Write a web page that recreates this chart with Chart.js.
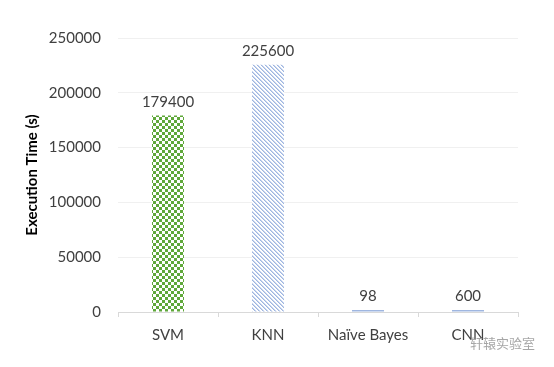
<!DOCTYPE html>
<html>
<head>
<meta charset="utf-8">
<script src="https://cdn.jsdelivr.net/npm/chart.js@4"></script>
<style>
  html, body { margin: 0; padding: 0; background: #fff; }
  #wrap { position: relative; width: 554px; height: 367px; }
  #mark { position: absolute; left: 470px; top: 333px; font: 13px "Noto Sans CJK SC"; color: #a6a6a6; }
</style>
</head>
<body>
<div id="wrap">
  <canvas id="barChart" width="554" height="367"></canvas>
  <div id="mark">轩辕实验室</div>
</div>
<script>
const methods = ['SVM', 'KNN', 'Naïve Bayes', 'CNN'];
const execTimes = [179400, 225600, 98, 600];
const yTicks = [0, 50000, 100000, 150000, 200000, 250000];

const FONT = 'Lato, "Open Sans", sans-serif';

function checkerPattern() {
  const c = document.createElement('canvas');
  c.width = 6; c.height = 6;
  const g = c.getContext('2d');
  g.fillStyle = '#fff';
  g.fillRect(0, 0, 6, 6);
  g.fillStyle = '#5fa83a';
  g.fillRect(0, 0, 3, 3);
  g.fillRect(3, 3, 3, 3);
  return g.createPattern(c, 'repeat');
}

function diagPattern() {
  const c = document.createElement('canvas');
  c.width = 4; c.height = 4;
  const g = c.getContext('2d');
  g.fillStyle = '#fff';
  g.fillRect(0, 0, 4, 4);
  g.fillStyle = '#9fb6e0';
  for (let i = 0; i < 4; i++) g.fillRect(i, i, 1, 1);
  g.fillStyle = '#c9d6ee';
  for (let i = 0; i < 4; i++) g.fillRect((i + 1) % 4, i, 1, 1);
  return g.createPattern(c, 'repeat');
}

const valueLabels = {
  id: 'valueLabels',
  afterDatasetsDraw(chart) {
    const ctx = chart.ctx;
    const meta = chart.getDatasetMeta(0);
    ctx.save();
    ctx.font = '15px ' + FONT;
    ctx.fillStyle = '#404040';
    ctx.textAlign = 'center';
    ctx.textBaseline = 'bottom';
    meta.data.forEach((bar, i) => {
      ctx.fillText(execTimes[i], bar.x, Math.min(bar.y, bar.base - 2) - 6);
    });
    ctx.restore();
  }
};

const ctx = document.getElementById('barChart').getContext('2d');

new Chart(ctx, {
  type: 'bar',
  data: {
    labels: methods,
    datasets: [{
      data: execTimes,
      backgroundColor: [checkerPattern(), diagPattern(), '#9fb6e0', '#9fb6e0'],
      borderWidth: 0,
      minBarLength: 2,
      barPercentage: 0.32,
      categoryPercentage: 1
    }]
  },
  options: {
    responsive: false,
    animation: false,
    layout: { padding: { top: 38, right: 36, bottom: 0, left: 23 } },
    plugins: {
      legend: { display: false },
      tooltip: { enabled: false }
    },
    scales: {
      x: {
        afterFit: axis => { axis.height = 55; },
        grid: { drawOnChartArea: false, color: '#d9d9d9', tickLength: 5 },
        border: { color: '#d9d9d9' },
        ticks: { color: '#404040', font: { family: FONT, size: 15 }, padding: 9 }
      },
      y: {
        min: 0,
        max: 250000,
        afterFit: axis => { axis.width = 95; },
        afterBuildTicks: axis => { axis.ticks = yTicks.map(v => ({ value: v })); },
        grid: { color: '#f0f0f0', drawTicks: false },
        border: { display: false },
        ticks: {
          color: '#404040',
          font: { family: FONT, size: 15 },
          padding: 17,
          callback: v => String(v)
        },
        title: {
          display: true,
          text: 'Execution Time (s)',
          color: '#000',
          font: { family: FONT, size: 15, weight: 'bold' },
          padding: 0
        }
      }
    }
  },
  plugins: [valueLabels]
});
</script>
</body>
</html>
